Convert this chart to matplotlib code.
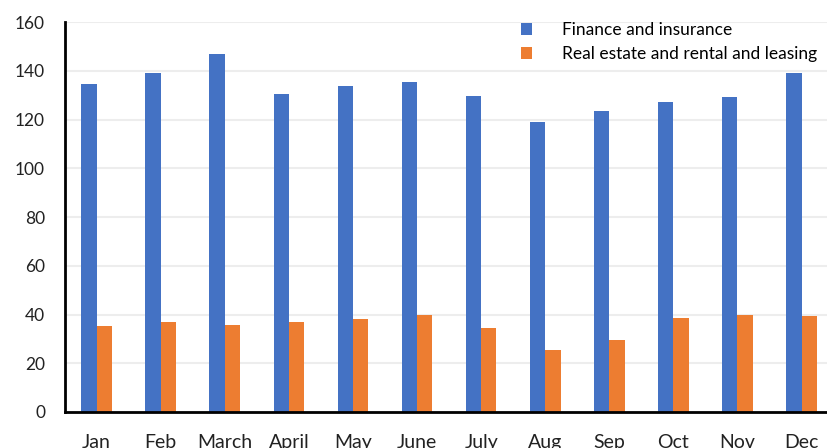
import matplotlib.pyplot as plt
import numpy as np

months = ['Jan', 'Feb', 'March', 'April', 'May', 'June', 'July', 'Aug', 'Sep', 'Oct', 'Nov', 'Dec']
finance = [134.7, 139.0, 146.9, 130.4, 133.7, 135.4, 129.9, 118.9, 123.7, 127.3, 129.2, 139.3]
real_estate = [35.3, 36.8, 35.7, 36.8, 38.0, 39.8, 34.3, 25.5, 29.5, 38.6, 39.7, 39.3]
series_labels = ['Finance and insurance', 'Real estate and rental and leasing']
colors = ['#4472C4', '#ED7D31']

plt.rcParams['font.family'] = ['Lato', 'DejaVu Sans']

fig = plt.figure(figsize=(8.27, 4.48), dpi=100)
ax = fig.add_axes([0.078, 0.0804, 0.930, 0.870])

x = np.arange(len(months))
w = 0.239
ax.bar(x - w / 2, finance, w, color=colors[0], label=series_labels[0], zorder=2)
ax.bar(x + w / 2, real_estate, w, color=colors[1], label=series_labels[1], zorder=2)

# Configuração dos eixos
ax.set_xlim(-0.5, len(months) - 0.5)
ax.set_ylim(0, 160)
ax.set_yticks(np.arange(0, 161, 20))
ax.set_xticks(x)
ax.set_xticklabels(months)
ax.tick_params(axis='both', length=0, colors='#222222')
ax.tick_params(axis='y', pad=14, labelsize=12.5)
ax.tick_params(axis='x', pad=16, labelsize=14)
ax.yaxis.grid(True, color='#EDEDED', linewidth=1.5, zorder=0)
ax.set_axisbelow(True)
for side in ['top', 'right']:
    ax.spines[side].set_visible(False)
for side in ['left', 'bottom']:
    ax.spines[side].set_linewidth(2)
    ax.spines[side].set_color('black')

fig.legend(loc='upper left', bbox_to_anchor=(0.630, 0.951), frameon=False,
           fontsize=12.5, handlelength=0.63, handleheight=0.63,
           handletextpad=1.72, labelspacing=0.46, borderpad=0, borderaxespad=0)

plt.savefig('out.png', dpi=100)
